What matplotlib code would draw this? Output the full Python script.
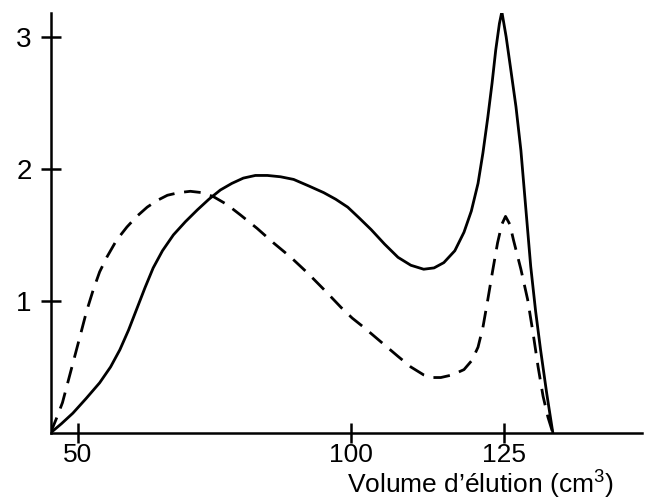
import numpy as np
import matplotlib
matplotlib.use("Agg")
import matplotlib.pyplot as plt

plt.rcParams['font.family'] = ['Liberation Sans', 'DejaVu Sans']
plt.rcParams['mathtext.fontset'] = 'custom'
plt.rcParams['mathtext.rm'] = 'Liberation Sans'

# solid curve (volume in cm3, response)
vol_solid = [45.0, 47.0, 49.1, 51.5, 54.0, 56.0, 57.7, 59.3, 60.8, 62.3, 63.8,
             65.5, 67.5, 69.7, 71.9, 74.0, 76.1, 78.2, 80.3, 82.5, 84.7, 87.1,
             89.5, 92.3, 95.0, 97.2, 99.4, 101.3, 103.3, 105.5, 107.7, 109.8,
             111.9, 113.6, 115.2, 117.0, 118.5, 119.7, 120.8, 121.6, 122.4,
             123.1, 123.7, 124.3, 124.7, 125.4, 126.1, 127.0, 127.8, 128.6,
             129.4, 130.2, 131.0, 132.0, 133.0]
val_solid = [0.0, 0.07, 0.15, 0.26, 0.38, 0.50, 0.63, 0.78, 0.94, 1.10, 1.25,
             1.38, 1.50, 1.60, 1.69, 1.77, 1.84, 1.89, 1.93, 1.95, 1.95, 1.94,
             1.92, 1.87, 1.82, 1.77, 1.71, 1.63, 1.54, 1.43, 1.33, 1.27,
             1.24, 1.25, 1.29, 1.38, 1.52, 1.68, 1.89, 2.12, 2.39,
             2.65, 2.90, 3.10, 3.19, 3.00, 2.77, 2.47, 2.14, 1.70,
             1.26, 0.92, 0.63, 0.30, 0.0]

# dashed curve
vol_dash = [45.0, 46.0, 47.2, 48.8, 50.4, 51.6, 52.8, 54.0, 55.3, 57.1, 59.0,
            60.8, 62.7, 64.5, 66.4, 68.5, 70.6, 72.7, 74.8, 77.3, 79.8, 82.8,
            85.8, 89.0, 92.1, 95.2, 98.2, 100.2, 102.1, 104.9, 107.7, 109.8,
            111.9, 113.3, 114.7, 116.6, 118.5, 119.8, 120.8, 121.6, 122.4,
            123.2, 124.0, 124.7, 125.3, 126.0, 126.6, 127.8, 128.9, 129.8,
            130.6, 131.4, 132.2, 133.0]
val_dash = [0.0, 0.10, 0.23, 0.48, 0.73, 0.92, 1.08, 1.22, 1.33, 1.46, 1.56,
            1.64, 1.71, 1.76, 1.80, 1.82, 1.83, 1.82, 1.79, 1.73, 1.65, 1.55,
            1.44, 1.33, 1.21, 1.08, 0.95, 0.87, 0.80, 0.69, 0.58, 0.50,
            0.44, 0.42, 0.42, 0.44, 0.48, 0.55, 0.65, 0.80, 1.01,
            1.23, 1.44, 1.58, 1.64, 1.58, 1.46, 1.24, 1.01, 0.75,
            0.50, 0.28, 0.12, 0.0]

xticks = [50, 100, 125]
yticks = [1, 2, 3]

# the original axis is hand drawn, not quite linear
knot_v = [0, 50, 100, 125, 200]
knot_p = [78 - 50 * 5.44, 78, 350, 502, 502 + 75 * 6.12]

def fwd(x):
    return np.interp(x, knot_v, knot_p)

def inv(p):
    return np.interp(p, knot_p, knot_v)

fig = plt.figure(figsize=(6.46, 5.0), dpi=100)
ax = fig.add_axes([51 / 646, 67 / 500, (642 - 51) / 646, 420 / 500])
ax.set_xscale('function', functions=(fwd, inv))

ax.plot(vol_solid, val_solid, color='black', lw=2.0, solid_joinstyle='round')
ax.plot(vol_dash, val_dash, color='black', lw=2.0, linestyle=(0, (6, 3.5)))

ax.set_xlim(45.1, 147.5)
ax.set_ylim(0, 3.18)

for s in ['top', 'right']:
    ax.spines[s].set_visible(False)
for s in ['left', 'bottom']:
    ax.spines[s].set_linewidth(1.8)

ax.set_xticks(xticks)
ax.set_xticklabels([str(t) for t in xticks])
ax.set_yticks(yticks)
ax.set_yticklabels([str(t) for t in yticks])
ax.xaxis.set_minor_locator(matplotlib.ticker.NullLocator())
ax.tick_params(axis='both', direction='inout', length=14, width=1.8,
               labelsize=20)
ax.tick_params(axis='x', pad=0, labelsize=19)
ax.tick_params(axis='y', pad=7)

ax.set_xlabel('Volume d’élution (cm$^3$)', fontsize=19)
ax.xaxis.set_label_coords(0.726, -0.080)

fig.savefig('out.png', dpi=100)
